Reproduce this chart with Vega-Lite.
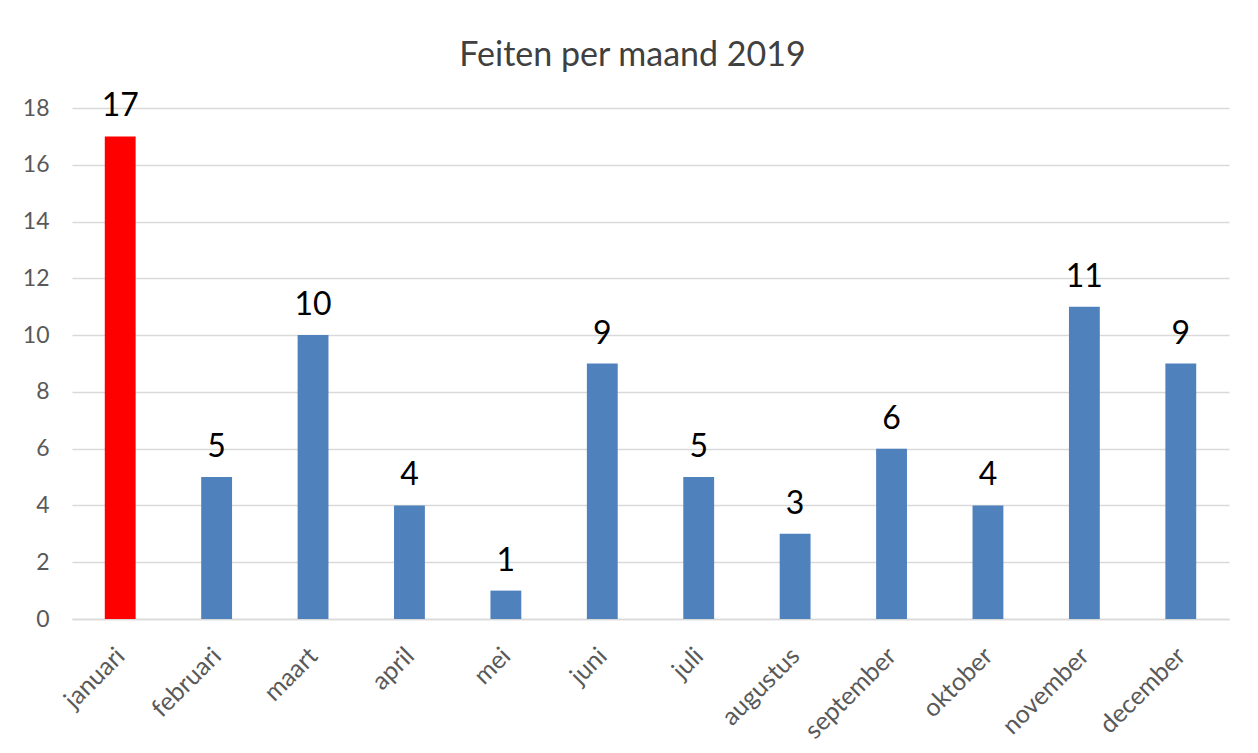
{
  "$schema": "https://vega.github.io/schema/vega-lite/v6.json",
  "autosize": "none",
  "width": 1157,
  "height": 511,
  "padding": {"left": 72, "top": 108, "right": 29, "bottom": 134},
  "background": "white",
  "title": {
    "text": "Feiten per maand 2019",
    "font": "Lato",
    "fontSize": 34,
    "fontWeight": "normal",
    "color": "#404040",
    "anchor": "middle",
    "frame": "group",
    "dx": -18,
    "offset": 17
  },
  "config": {
    "view": {"stroke": null},
    "font": "Lato"
  },
  "data": {
    "values": [
      {"maand": "januari", "aantal": 17, "highlight": true},
      {"maand": "februari", "aantal": 5, "highlight": false},
      {"maand": "maart", "aantal": 10, "highlight": false},
      {"maand": "april", "aantal": 4, "highlight": false},
      {"maand": "mei", "aantal": 1, "highlight": false},
      {"maand": "juni", "aantal": 9, "highlight": false},
      {"maand": "juli", "aantal": 5, "highlight": false},
      {"maand": "augustus", "aantal": 3, "highlight": false},
      {"maand": "september", "aantal": 6, "highlight": false},
      {"maand": "oktober", "aantal": 4, "highlight": false},
      {"maand": "november", "aantal": 11, "highlight": false},
      {"maand": "december", "aantal": 9, "highlight": false}
    ]
  },
  "encoding": {
    "x": {
      "field": "maand",
      "type": "nominal",
      "sort": null,
      "scale": {"paddingInner": 0.68, "paddingOuter": 0.34},
      "axis": {
        "title": null,
        "labelAngle": -45,
        "labelFontSize": 25,
        "labelColor": "#595959",
        "labelPadding": 24,
        "labelOffset": -8,
        "ticks": false,
        "domainColor": "#D9D9D9",
        "domainWidth": 1.5,
        "grid": false
      }
    },
    "y": {
      "field": "aantal",
      "type": "quantitative",
      "scale": {"domain": [0, 18], "nice": false},
      "axis": {
        "title": null,
        "values": [0, 2, 4, 6, 8, 10, 12, 14, 16, 18],
        "labelFontSize": 23,
        "labelColor": "#595959",
        "labelPadding": 23,
        "ticks": false,
        "domain": false,
        "gridColor": "#D9D9D9",
        "gridWidth": 1.5
      }
    }
  },
  "layer": [
    {
      "mark": {"type": "bar"},
      "encoding": {
        "color": {
          "field": "highlight",
          "type": "nominal",
          "scale": {"domain": [true, false], "range": ["#FF0000", "#4F81BD"]},
          "legend": null
        }
      }
    },
    {
      "mark": {"type": "text", "baseline": "alphabetic", "dy": -20, "fontSize": 32, "color": "#000000"},
      "encoding": {
        "text": {"field": "aantal", "type": "quantitative"}
      }
    }
  ]
}
